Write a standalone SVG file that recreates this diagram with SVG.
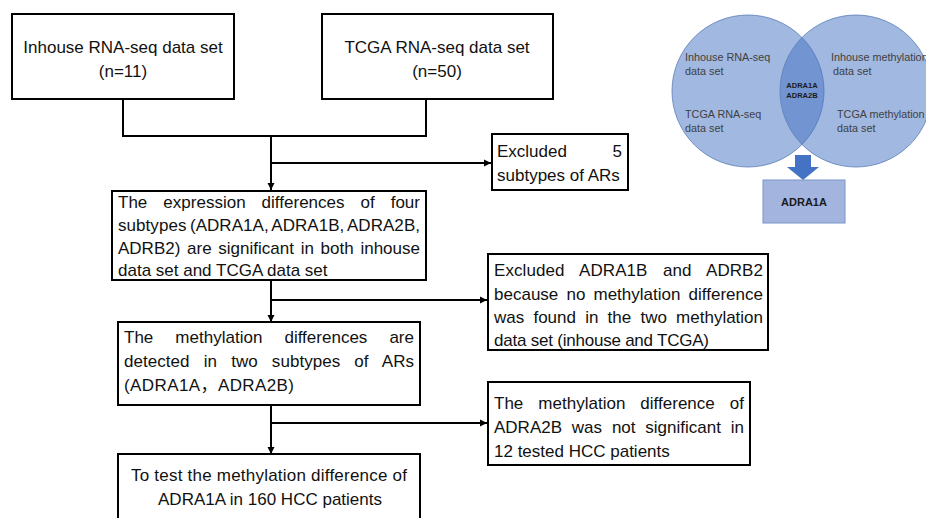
<svg xmlns="http://www.w3.org/2000/svg" width="926" height="518" viewBox="0 0 926 518">
<defs>
<style>
.box{fill:#fff;stroke:#000;stroke-width:2}
.t{font-family:"Liberation Sans","Noto Sans CJK SC",sans-serif;font-size:17px;fill:#111}
.c{text-anchor:middle}
.e{text-anchor:end}
.ln{fill:none;stroke:#000;stroke-width:2}
.vt{font-family:"Liberation Sans","Noto Sans CJK SC",sans-serif;font-size:10.8px;fill:#404040}
.vb{font-family:"Liberation Sans",sans-serif;font-size:7.5px;font-weight:bold;fill:#1a1a1a;text-anchor:middle}
</style>
<marker id="ah" markerWidth="8" markerHeight="8" refX="7" refY="4" orient="auto" markerUnits="userSpaceOnUse">
<path d="M0,0.5 L7,4 L0,7.5 Z" fill="#000"/>
</marker>
</defs>

<g id="connectors">
<polyline class="ln" points="123,99 123,136 426,136 426,99"/>
<line class="ln" x1="271" y1="136" x2="271" y2="190" marker-end="url(#ah)"/>
<line class="ln" x1="271" y1="163" x2="491" y2="163" marker-end="url(#ah)"/>
<line class="ln" x1="271" y1="280" x2="271" y2="322" marker-end="url(#ah)"/>
<line class="ln" x1="271" y1="300" x2="487" y2="300" marker-end="url(#ah)"/>
<line class="ln" x1="271" y1="405" x2="271" y2="454" marker-end="url(#ah)"/>
<line class="ln" x1="271" y1="423" x2="487" y2="423" marker-end="url(#ah)"/>
</g>

<g id="node-inhouse-rna">
<rect class="box" x="12" y="14" width="222" height="85"/>
<text class="t c" x="123" y="53">Inhouse RNA-seq data set</text>
<text class="t c" x="123" y="77">(n=11)</text>
</g>

<g id="node-tcga-rna">
<rect class="box" x="322" y="14" width="231" height="85"/>
<text class="t c" x="437" y="53">TCGA RNA-seq data set</text>
<text class="t c" x="437" y="77">(n=50)</text>
</g>

<g id="node-excluded5">
<rect class="box" x="492" y="134" width="136" height="56"/>
<text class="t" x="497" y="157">Excluded</text>
<text class="t e" x="622" y="157">5</text>
<text class="t" x="497" y="181">subtypes of ARs</text>
</g>

<g id="node-expression">
<rect class="box" x="112" y="191" width="314" height="89"/>
<text class="t" x="118" y="208" word-spacing="11.2" textLength="302">The expression differences of four</text>
<text class="t" x="118" y="231" word-spacing="-1.3" textLength="302">subtypes (ADRA1A, ADRA1B, ADRA2B,</text>
<text class="t" x="118" y="254" word-spacing="2" textLength="302">ADRB2) are significant in both inhouse</text>
<text class="t" x="118" y="276">data set and TCGA data set</text>
</g>

<g id="node-excluded-adra1b">
<rect class="box" x="488" y="254" width="280" height="96"/>
<text class="t" x="494" y="276" word-spacing="10.6" textLength="269">Excluded ADRA1B and ADRB2</text>
<text class="t" x="494" y="300" word-spacing="3.4" textLength="269">because no methylation difference</text>
<text class="t" x="494" y="323" word-spacing="4.5" textLength="269">was found in the two methylation</text>
<text class="t" x="494" y="346" textLength="215">data set (inhouse and TCGA)</text>
</g>

<g id="node-methylation">
<rect class="box" x="118" y="322" width="302" height="83"/>
<text class="t" x="124" y="343" word-spacing="17.3" textLength="290">The methylation differences are</text>
<text class="t" x="124" y="367" word-spacing="9.4" textLength="290">detected in two subtypes of ARs</text>
<text class="t" x="124" y="391" textLength="170">(ADRA1A，ADRA2B)</text>
</g>

<g id="node-adra2b">
<rect class="box" x="488" y="382" width="262" height="83"/>
<text class="t" x="494" y="409" word-spacing="10.3" textLength="250">The methylation difference of</text>
<text class="t" x="494" y="433" word-spacing="5.1" textLength="250">ADRA2B was not significant in</text>
<text class="t" x="494" y="457">12 tested HCC patients</text>
</g>

<g id="node-test">
<rect class="box" x="118" y="454" width="302" height="70"/>
<text class="t c" x="269" y="481" textLength="276">To test the methylation difference of</text>
<text class="t c" x="270" y="505">ADRA1A in 160 HCC patients</text>
</g>

<g id="venn">
<circle cx="748" cy="91" r="76" fill="#4472C4" fill-opacity="0.5" stroke="#5B7DB8" stroke-width="0.8"/>
<circle cx="856" cy="91" r="76" fill="#4472C4" fill-opacity="0.5" stroke="#5B7DB8" stroke-width="0.8"/>
<text class="vt" x="685" y="61">Inhouse RNA-seq</text>
<text class="vt" x="685" y="75">data set</text>
<text class="vt" x="685" y="118">TCGA RNA-seq</text>
<text class="vt" x="685" y="132">data set</text>
<text class="vt" x="831" y="61">Inhouse methylation</text>
<text class="vt" x="833" y="75">data set</text>
<text class="vt" x="837" y="118">TCGA methylation</text>
<text class="vt" x="837" y="132">data set</text>
<text class="vb" x="802" y="88">ADRA1A</text>
<text class="vb" x="802" y="98">ADRA2B</text>
</g>

<g id="venn-arrow">
<path d="M795,155 L811,155 L811,167 L819,167 L803,180 L787,167 L795,167 Z" fill="#4472C4"/>
</g>

<g id="node-adra1a-result">
<rect x="763" y="180" width="82" height="43" fill="#A3B5DF" stroke="#7A94C8" stroke-width="1"/>
<text x="804" y="206" text-anchor="middle" font-family="Liberation Sans, sans-serif" font-size="11" font-weight="bold" fill="#1a1a1a">ADRA1A</text>
</g>
</svg>
